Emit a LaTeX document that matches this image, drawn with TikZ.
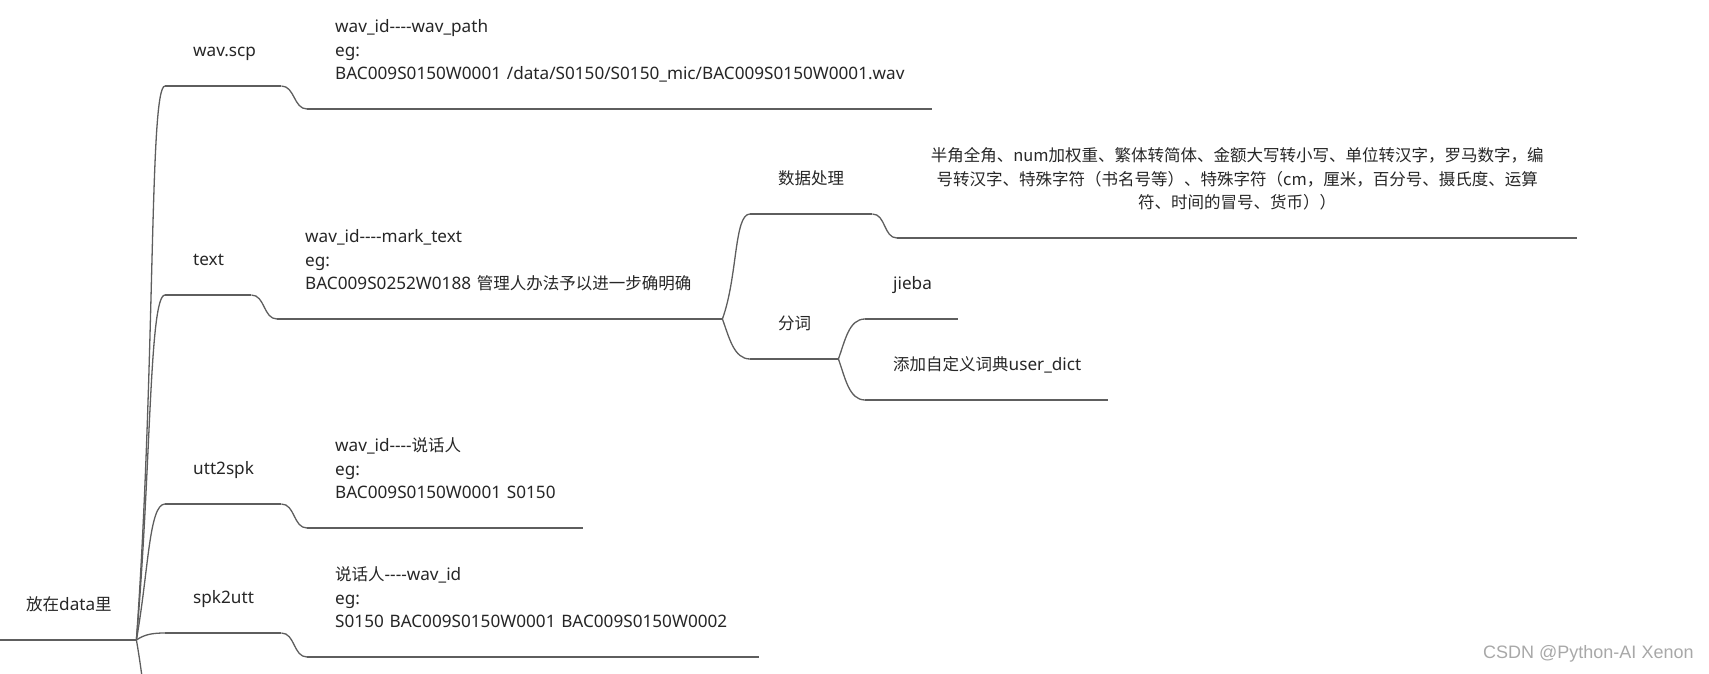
\documentclass[tikz,border=0pt]{standalone}
\usepackage{fontspec}
\setmainfont{Noto Sans}[Scale=1.04, Ligatures=TeXOff]
\newfontfamily\cjk{Noto Sans CJK SC}[Ligatures=TeXOff]
\newfontfamily\markfont{Liberation Sans}
\usepackage{tikz}

\definecolor{ink}{HTML}{262626}
\definecolor{branchgray}{HTML}{5E5E5E}
\definecolor{markgray}{HTML}{A8A8A8}
\newcommand{\lastgap}{\rule[-25pt]{0pt}{0pt}}

\tikzset{
  topic/.style={anchor=south west, inner xsep=28pt, inner ysep=4pt, align=left,
    text=ink, font=\fontsize{16.5}{23.5}\selectfont, execute at end node=\lastgap},
  branch/.style={draw=branchgray, line width=1.3pt},
  sbend/.style={branch, out=0, in=180},
  link/.style={branch, in=180, in distance=16pt}
}

\begin{document}
\begin{tikzpicture}[x=1pt, y=-1pt]
\useasboundingbox (0,0) rectangle (1709,674) ;
\clip (0,0) rectangle (1709,674) ;

% left column
\node[topic, inner xsep=26pt, text width=84pt] (root) at (0,640) {{\cjk 放在}data{\cjk 里}} ;
\node[topic, text width=60pt] (wavscp) at (165,86) {wav.scp} ;
\node[topic, text width=30pt] (text) at (165,295) {text} ;
\node[topic, text width=60pt] (utt2spk) at (165,504) {utt2spk} ;
\node[topic, text width=60pt] (spk2utt) at (165,633) {spk2utt} ;
\coordinate (more) at (165,775) ;

% file formats
\node[topic, text width=569pt] (wavdesc) at (307,109)
  {wav\_id----wav\_path\\ eg:\\ BAC009S0150W0001~/data/S0150/S0150\_mic/BAC009S0150W0001.wav} ;
\node[topic, text width=389pt] (textdesc) at (277,319)
  {wav\_id----mark\_text\\ eg:\\ BAC009S0252W0188~{\cjk 管理人办法予以进一步确明确}} ;
\node[topic, text width=220pt] (uttdesc) at (307,528)
  {wav\_id----{\cjk 说话人}\\ eg:\\ BAC009S0150W0001~S0150} ;
\node[topic, text width=396pt] (spkdesc) at (307,657)
  {{\cjk 说话人}----wav\_id\\ eg:\\ S0150~BAC009S0150W0001~BAC009S0150W0002} ;

% text processing
\node[topic, text width=66pt] (proc) at (750,214) {\cjk 数据处理} ;
\node[topic, text width=624pt, align=center] (procdesc) at (897,238)
  {\cjk 半角全角、num加权重、繁体转简体、金额大写转小写、单位转汉字，罗马数字，编\\
   号转汉字、特殊字符（书名号等）、特殊字符（cm，厘米，百分号、摄氏度、运算\\
   符、时间的冒号、货币））} ;
\node[topic, text width=32pt] (seg) at (750,359) {\cjk 分词} ;
\node[topic, text width=37pt] (jieba) at (865,319) {jieba} ;
\node[topic, text width=187pt] (dict) at (865,400) {{\cjk 添加自定义词典}user\_dict} ;

\foreach \n in {root,wavscp,text,utt2spk,spk2utt,wavdesc,textdesc,uttdesc,spkdesc,proc,procdesc,seg,jieba,dict}
  {\draw[branch] (\n.south west) -- (\n.south east) ;}

% curves
\draw[link] (root.south east) to[out=86, out distance=280pt] (wavscp.south west) ;
\draw[link] (root.south east) to[out=85, out distance=170pt] (text.south west) ;
\draw[link] (root.south east) to[out=80, out distance=70pt] (utt2spk.south west) ;
\draw[link, in distance=12pt] (root.south east) to[out=35, out distance=10pt] (spk2utt.south west) ;
\draw[link] (root.south east) to[out=-80, out distance=70pt] (more) ;
\draw[sbend] (wavscp.south east) to (wavdesc.south west) ;
\draw[sbend] (text.south east) to (textdesc.south west) ;
\draw[sbend] (utt2spk.south east) to (uttdesc.south west) ;
\draw[sbend] (spk2utt.south east) to (spkdesc.south west) ;
\draw[link] (textdesc.south east) to[out=70, out distance=45pt] (proc.south west) ;
\draw[link] (textdesc.south east) to[out=-70, out distance=20pt] (seg.south west) ;
\draw[sbend] (proc.south east) to (procdesc.south west) ;
\draw[link] (seg.south east) to[out=70, out distance=20pt] (jieba.south west) ;
\draw[link] (seg.south east) to[out=-70, out distance=20pt] (dict.south west) ;

\node[anchor=west, font=\markfont\fontsize{18}{20}\selectfont, text=markgray, inner sep=0pt] (csdn) at (1483,654) {CSDN @Python-AI Xenon} ;
\end{tikzpicture}
\end{document}
